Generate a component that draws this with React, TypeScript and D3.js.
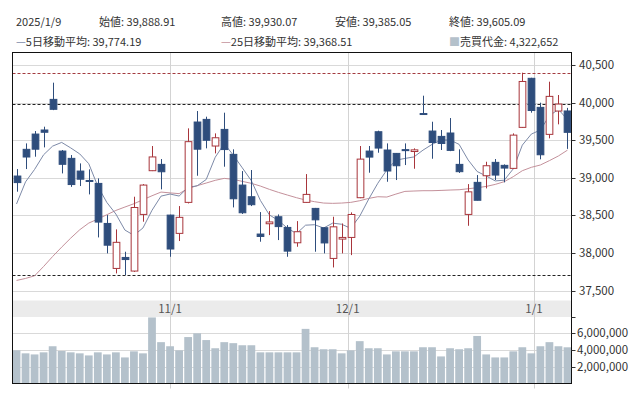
import React from 'react';
import * as d3 from 'd3';

// trading days shown (Nikkei 225, daily)
const dates = [
  '2024-10-08', '2024-10-09', '2024-10-10', '2024-10-11', '2024-10-15', '2024-10-16', '2024-10-17', '2024-10-18',
  '2024-10-21', '2024-10-22', '2024-10-23', '2024-10-24', '2024-10-25', '2024-10-28', '2024-10-29', '2024-10-30',
  '2024-10-31', '2024-11-01', '2024-11-05', '2024-11-06', '2024-11-07', '2024-11-08', '2024-11-11', '2024-11-12',
  '2024-11-13', '2024-11-14', '2024-11-15', '2024-11-18', '2024-11-19', '2024-11-20', '2024-11-21', '2024-11-22',
  '2024-11-25', '2024-11-26', '2024-11-27', '2024-11-28', '2024-11-29', '2024-12-02', '2024-12-03', '2024-12-04',
  '2024-12-05', '2024-12-06', '2024-12-09', '2024-12-10', '2024-12-11', '2024-12-12', '2024-12-13', '2024-12-16',
  '2024-12-17', '2024-12-18', '2024-12-19', '2024-12-20', '2024-12-23', '2024-12-24', '2024-12-25', '2024-12-26',
  '2024-12-27', '2024-12-30', '2025-01-06', '2025-01-07', '2025-01-08', '2025-01-09',
];

const opens = [
  39024, 39379, 39582, 39636, 40043, 39356, 39259, 39090, 38965, 38926, 38394, 37796, 37942, 37761, 38514, 39095,
  39179, 38505, 38262, 38674, 39742, 39777, 39423, 39644, 39312, 38904, 38749, 38253, 38390, 38483, 38341, 38137,
  38674, 38594, 38337, 37929, 38186, 38208, 38736, 39356, 39613, 39370, 39325, 39375, 39350, 39855, 39622, 39551,
  39596, 39179, 38514, 38940, 39028, 39206, 39166, 39126, 39671, 40323, 39937, 39578, 39888, 39888.91,
];
const highs = [
  39117, 39458, 39622, 39680, 40265, 39370, 39303, 39192, 39113, 38993, 38505, 38315, 38018, 38749, 38917, 39423,
  39250, 38510, 38625, 39658, 39888, 39813, 39591, 39866, 39379, 39090, 39104, 38545, 38558, 38514, 38372, 38425,
  39050, 38600, 38340, 38483, 38394, 38541, 39423, 39423, 39627, 39458, 39330, 39458, 39392, 40092, 39746, 39636,
  39795, 39379, 38917, 39037, 39214, 39250, 39179, 39591, 40398, 40330, 39999, 40278, 40101, 39930.07,
];
const lows = [
  38816, 39117, 39281, 39405, 39900, 39059, 38880, 38891, 38780, 38208, 37996, 37730, 37707, 37750, 38417, 39090,
  38847, 37951, 38160, 38660, 39028, 39392, 39325, 39148, 38607, 38520, 38625, 38151, 38239, 38173, 37951, 38084,
  38670, 38018, 37996, 37809, 37996, 37973, 38730, 39068, 39334, 38948, 38971, 39170, 39121, 39840, 39254, 39370,
  39355, 39065, 38363, 38700, 38860, 38971, 38940, 39117, 39665, 39866, 39246, 39525, 39711, 39385.05,
];
const closes = [
  38937, 39277, 39381, 39606, 39911, 39180, 38911, 38982, 38955, 38412, 38105, 38143, 37914, 38606, 38904, 39278,
  39081, 38054, 38475, 39481, 39381, 39500, 39533, 39376, 38722, 38536, 38643, 38221, 38414, 38352, 38026, 38284,
  38780, 38442, 38135, 38349, 38208, 38513, 39249, 39276, 39396, 39091, 39161, 39368, 39372, 39849, 39470, 39457,
  39365, 39082, 38814, 38702, 39161, 39037, 39130, 39568, 40281, 39895, 39307, 40083, 39981, 39605.09,
];

const ma5 = [
  38653, 38947, 39112, 39307, 39422, 39471, 39398, 39318, 39188, 38888, 38673, 38519, 38306, 38236, 38334, 38569,
  38757, 38785, 38758, 38874, 38894, 38978, 39274, 39454, 39302, 39133, 38962, 38700, 38507, 38433, 38331, 38259,
  38371, 38377, 38333, 38398, 38383, 38329, 38491, 38719, 38928, 39105, 39235, 39258, 39278, 39368, 39444, 39503,
  39503, 39445, 39238, 39084, 39025, 38959, 38969, 39120, 39435, 39582, 39636, 39827, 39909, 39774.19,
];
const ma25 = [
  37636, 37663, 37698, 37822, 37955, 38079, 38199, 38310, 38399, 38452, 38510, 38567, 38612, 38656, 38709, 38762,
  38811, 38800, 38790, 38860, 38896, 38931, 38967, 38993, 38980, 38953, 38927, 38891, 38847, 38807, 38771, 38736,
  38705, 38683, 38665, 38661, 38665, 38674, 38696, 38727, 38749, 38745, 38784, 38820, 38825, 38829, 38829, 38833,
  38838, 38842, 38855, 38869, 38886, 38913, 38949, 39016, 39095, 39140, 39171, 39229, 39291, 39368.51,
];

// 売買代金
const volumes = [
  3960000, 3600000, 3470000, 3720000, 4450000, 3880000, 3720000, 3600000, 3350000, 3720000, 3470000, 3720000,
  3110000, 3840000, 3600000, 7900000, 4940000, 4450000, 3960000, 5550000, 6000000, 5190000, 4210000, 4940000,
  4820000, 4570000, 4570000, 3720000, 3720000, 3720000, 3720000, 3720000, 6530000, 4330000, 4090000, 4090000,
  3600000, 3960000, 5060000, 4210000, 4210000, 3470000, 3840000, 3840000, 3840000, 4330000, 4330000, 3230000,
  4210000, 4090000, 4210000, 5680000, 3470000, 3110000, 3110000, 3840000, 4330000, 3600000, 4450000, 4940000,
  4450000, 4322652,
];

const priceTicks = [37500, 38000, 38500, 39000, 39500, 40000, 40500];
const volumeTicks = [2000000, 4000000, 6000000, 8000000];
const monthTicks = ['2024-11-01', '2024-12-01', '2025-01-01'];
const monthLabels = ['11/1', '12/1', '1/1'];

// dashed reference lines: period high, 40,000 line, period low
const refValues = [40398, 39980, 37707];
const refColors = ['#a33a3f', '#222', '#222'];

const FONT = '"Noto Sans CJK JP", "Noto Sans", sans-serif';
const UP = '#a8353b';
const DOWN = '#2e4d7c';

export default function App() {
  const n = dates.length;
  const left = 12.5, right = 571.5;
  const top = 52.5, priceBottom = 300.5, bandBottom = 317, volBottom = 383.5;

  const x = d3.scaleBand<number>().domain(d3.range(n)).range([12, 572]);
  const step = x.step();
  const cx = (i: number) => (x(i) as number) + x.bandwidth() / 2;

  const yP = d3.scaleLinear().domain([37500, 40500]).range([290.7, 65]);
  const yV = d3.scaleLinear().domain([0, 8000000]).range([383.4, 316.6]);

  const t = dates.map(d => new Date(d).getTime());
  const dateX = (s: string) => {
    const v = new Date(s).getTime();
    for (let i = 0; i < n - 1; i++) {
      if (v >= t[i] && v < t[i + 1]) return cx(i) + ((v - t[i]) / (t[i + 1] - t[i])) * step;
    }
    return cx(n - 1);
  };

  const line = d3.line<number>().x((_, i) => cx(i)).y(d => yP(d));
  const fmt2 = d3.format(',.2f');
  const fmt0 = d3.format(',');
  const last = n - 1;

  const bodyW = step * 0.74;
  const volW = step * 0.86;

  const txt = { fontFamily: FONT, fontSize: 11, fill: '#333' };

  return (
    <svg width={642} height={397} style={{ position: 'absolute', left: 0, top: 0, background: '#fff' }}>
      {/* header */}
      <g style={txt}>
        <text x={16} y={25.5}>2025/1/9</text>
        <text x={99} y={25.5}>始値: {fmt2(opens[last])}</text>
        <text x={221} y={25.5}>高値: {fmt2(highs[last])}</text>
        <text x={335} y={25.5}>安値: {fmt2(lows[last])}</text>
        <text x={449} y={25.5}>終値: {fmt2(closes[last])}</text>
        <text x={16} y={46}><tspan fill="#7d8aa8">—</tspan>5日移動平均: {fmt2(ma5[last])}</text>
        <text x={221} y={46}><tspan fill="#c4919b">—</tspan>25日移動平均: {fmt2(ma25[last])}</text>
        <text x={449} y={46}><tspan fill="#b4c1cb">■</tspan>売買代金: {fmt0(volumes[last])}</text>
      </g>

      {/* gridlines */}
      {priceTicks.map(v => (
        <line key={'pg' + v} x1={left} x2={right} y1={Math.round(yP(v)) + 0.5} y2={Math.round(yP(v)) + 0.5} stroke="#d9d9d9" />
      ))}
      <rect x={left} y={priceBottom} width={right - left} height={bandBottom - priceBottom} fill="#ebebeb" />
      {volumeTicks.slice(0, 3).map(v => (
        <line key={'vg' + v} x1={left} x2={right} y1={Math.round(yV(v)) + 0.5} y2={Math.round(yV(v)) + 0.5} stroke="#d9d9d9" />
      ))}
      {monthTicks.map(m => {
        const xm = Math.round(dateX(m)) + 0.5;
        return <line key={'mg' + m} x1={xm} x2={xm} y1={top} y2={volBottom + 5} stroke="#d3d3d3" />;
      })}
      {monthTicks.map((m, i) => (
        <text key={'ml' + m} x={dateX(m)} y={313} textAnchor="middle" style={{ ...txt, fontSize: 11.5, fill: '#555' }}>
          {monthLabels[i]}
        </text>
      ))}

      {/* volume */}
      {volumes.map((v, i) => (
        <rect key={'v' + i} x={cx(i) - volW / 2} y={yV(v)} width={volW} height={yV(0) - yV(v)} fill="#b4c1cb" />
      ))}

      {/* reference lines */}
      {refValues.map((v, i) => (
        <line key={'r' + v} x1={left} x2={right} y1={Math.round(yP(v)) + 0.5} y2={Math.round(yP(v)) + 0.5}
          stroke={refColors[i]} strokeDasharray="3,2" />
      ))}

      {/* moving averages */}
      <path d={line(ma25) as string} fill="none" stroke="#c4919b" strokeWidth={1} />
      <path d={line(ma5) as string} fill="none" stroke="#7d8aa8" strokeWidth={1} />

      {/* candles */}
      {closes.map((c, i) => {
        const o = opens[i];
        const up = c > o;
        const col = up ? UP : DOWN;
        const yTop = yP(Math.max(o, c));
        const yBot = yP(Math.min(o, c));
        const xc = Math.round(cx(i)) + 0.5;
        return (
          <g key={'c' + i}>
            <line x1={xc} x2={xc} y1={yP(highs[i])} y2={yP(lows[i])} stroke={col} />
            <rect x={xc - bodyW / 2} y={yTop} width={bodyW} height={Math.max(1, yBot - yTop)}
              fill={up ? '#fff' : DOWN} stroke={col} strokeWidth={1} />
          </g>
        );
      })}

      {/* frame */}
      <rect x={left} y={top} width={right - left} height={volBottom - top} fill="none" stroke="#111" />

      {/* right axis */}
      {priceTicks.map(v => (
        <g key={'pt' + v}>
          <line x1={right} x2={right + 4} y1={Math.round(yP(v)) + 0.5} y2={Math.round(yP(v)) + 0.5} stroke="#333" />
          <text x={579} y={yP(v)} dy="0.35em" style={{ ...txt, fontSize: 11.5 }}>{fmt0(v)}</text>
        </g>
      ))}
      {volumeTicks.map(v => (
        <g key={'vt' + v}>
          <line x1={right} x2={right + 4} y1={Math.round(yV(v)) + 0.5} y2={Math.round(yV(v)) + 0.5} stroke="#333" />
          {v < 8000000 && (
            <text x={577} y={yV(v)} dy="0.35em" style={{ ...txt, fontSize: 11.5 }}>{fmt0(v)}</text>
          )}
        </g>
      ))}
    </svg>
  );
}
